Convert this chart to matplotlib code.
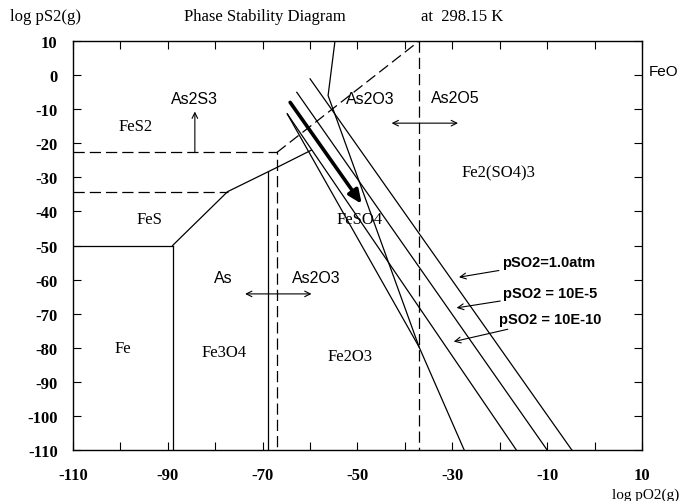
import numpy as np
import matplotlib
matplotlib.use("Agg")
import matplotlib.pyplot as plt

plt.rcParams["axes.unicode_minus"] = False

# axis ranges / ticks
x_ticks = np.arange(-110, 11, 10)
x_labels = [str(v) if (v + 110) % 20 == 0 else "" for v in x_ticks]
y_ticks = np.arange(-110, 11, 10)

# solid phase boundaries (log pO2, log pS2)
fe_fe3o4_x = [-89, -89]
fe_fe3o4_y = [-110, -50]
fe_fes_x = [-110, -89]
fe_fes_y = [-50, -50]
fes_ox_x = [-89, -77.4, -67.0, -59.7]
fes_ox_y = [-50, -34.2, -27.1, -22.0]
fe3o4_fe2o3_x = [-68.8, -68.8]
fe3o4_fe2o3_y = [-110, -28.3]
top_line_x = [-54.75, -56.2, -37.0, -27.5]
top_line_y = [10, -6.0, -79.8, -110]
q1_x = [-64.8, -37.0]
q1_y = [-11.4, -79.8]

# dashed As boundaries
as2s3_x = [-110, -67.0, -67.0]
as2s3_y = [-22.7, -22.7, -110]
fes_dash_x = [-110, -77.4]
fes_dash_y = [-34.2, -34.2]
as_diag_x = [-67.0, -37.0]
as_diag_y = [-22.7, 10]
as2o5_x = [-37.0, -37.0]
as2o5_y = [10, -110]

# constant pSO2 lines (start, end)
pso2_labels = ["pSO2=1.0atm", "pSO2 = 10E-5", "pSO2 = 10E-10"]
pso2_x = [[-60.0, -4.8], [-62.8, -10.0], [-64.8, -16.5]]
pso2_y = [[-1.1, -110], [-5.05, -110], [-11.4, -110]]
pso2_text_xy = [(-19.6, -54.9), (-19.3, -64.0), (-20.1, -71.7)]
pso2_point_xy = [(-28.6, -59.3), (-29.1, -68.3), (-29.7, -78.2)]

# thick arrow
path_x = [-64.2, -49.1]
path_y = [-8.0, -37.8]

# region labels
serif_regions = [("Fe", -99.4, -80.1), ("Fe3O4", -78.2, -81.3), ("Fe2O3", -51.6, -82.3),
                 ("FeSO4", -49.5, -42.2), ("Fe2(SO4)3", -20.3, -28.5),
                 ("FeS", -93.8, -42.2), ("FeS2", -96.9, -15.0)]
sans_regions = [("As2S3", -84.3, -7.0), ("As", -78.3, -59.3), ("As2O3", -58.6, -59.3),
                ("As2O3", -47.4, -7.0), ("As2O5", -29.4, -6.5)]

SERIF = "Liberation Serif"
SANS = "Liberation Sans"

fig = plt.figure(figsize=(6.81, 5.02), dpi=100)
ax = fig.add_axes([0.1072, 0.1016, 0.8355, 0.8147])
ax.set_xlim(-110, 10)
ax.set_ylim(-110, 10)

lw = 0.9
ax.plot(fe_fe3o4_x, fe_fe3o4_y, color="black", lw=lw)
ax.plot(fe_fes_x, fe_fes_y, color="black", lw=lw)
ax.plot(fes_ox_x, fes_ox_y, color="black", lw=lw)
ax.plot(fe3o4_fe2o3_x, fe3o4_fe2o3_y, color="black", lw=lw)
ax.plot(top_line_x, top_line_y, color="black", lw=lw)
ax.plot(q1_x, q1_y, color="black", lw=lw)

for xs, ys in [(as2s3_x, as2s3_y), (fes_dash_x, fes_dash_y),
               (as_diag_x, as_diag_y), (as2o5_x, as2o5_y)]:
    ln, = ax.plot(xs, ys, color="black", lw=lw)
    ln.set_dashes((9, 4))

for xs, ys in zip(pso2_x, pso2_y):
    ax.plot(xs, ys, color="black", lw=lw)

ax.annotate("", xy=(path_x[1], path_y[1]), xytext=(path_x[0], path_y[0]),
            arrowprops=dict(arrowstyle="-|>,head_length=0.8,head_width=0.35",
                            color="black", lw=2.6, shrinkA=0, shrinkB=0))

# label arrows
ax.annotate("", xy=(-84.3, -10.7), xytext=(-84.3, -22.7),
            arrowprops=dict(arrowstyle="->", color="black", lw=0.8, shrinkA=0, shrinkB=0))
ax.annotate("", xy=(-73.7, -64.2), xytext=(-59.7, -64.2),
            arrowprops=dict(arrowstyle="<->", color="black", lw=0.8, shrinkA=0, shrinkB=0))
ax.annotate("", xy=(-42.8, -14.1), xytext=(-28.8, -14.1),
            arrowprops=dict(arrowstyle="<->", color="black", lw=0.8, shrinkA=0, shrinkB=0))

for label, txy, pxy in zip(pso2_labels, pso2_text_xy, pso2_point_xy):
    ax.annotate(label, xy=pxy, xytext=txy, ha="left", va="center",
                fontsize=10.5, fontweight="bold", family=SANS,
                arrowprops=dict(arrowstyle="->", color="black", lw=0.8,
                                shrinkA=0, shrinkB=0))

for label, x, y in serif_regions:
    ax.text(x, y, label, ha="center", va="center", fontsize=12, family=SERIF)
for label, x, y in sans_regions:
    ax.text(x, y, label, ha="center", va="center", fontsize=11.5, family=SANS)

ax.set_xticks(x_ticks)
ax.set_xticklabels(x_labels)
ax.set_yticks(y_ticks)
ax.tick_params(direction="in", length=6, width=0.8, top=True, right=True,
               labelsize=12, pad=12)
for lab in ax.get_xticklabels() + ax.get_yticklabels():
    lab.set_family(SERIF)
    lab.set_fontweight("bold")
ax.tick_params(axis="y", pad=11)
for sp in ax.spines.values():
    sp.set_linewidth(1.0)

fig.text(0.015, 0.967, "log pS2(g)", ha="left", va="center", fontsize=12, family=SERIF)
fig.text(0.389, 0.967, "Phase Stability Diagram", ha="center", va="center", fontsize=12,
         family=SERIF)
fig.text(0.679, 0.967, "at  298.15 K", ha="center", va="center", fontsize=12,
         family=SERIF)
fig.text(0.996, 0.857, "FeO", ha="right", va="center", fontsize=11, family=SANS)
fig.text(0.998, 0.014, "log pO2(g)", ha="right", va="center", fontsize=11,
         family=SERIF)

fig.savefig("out.png", dpi=100)
